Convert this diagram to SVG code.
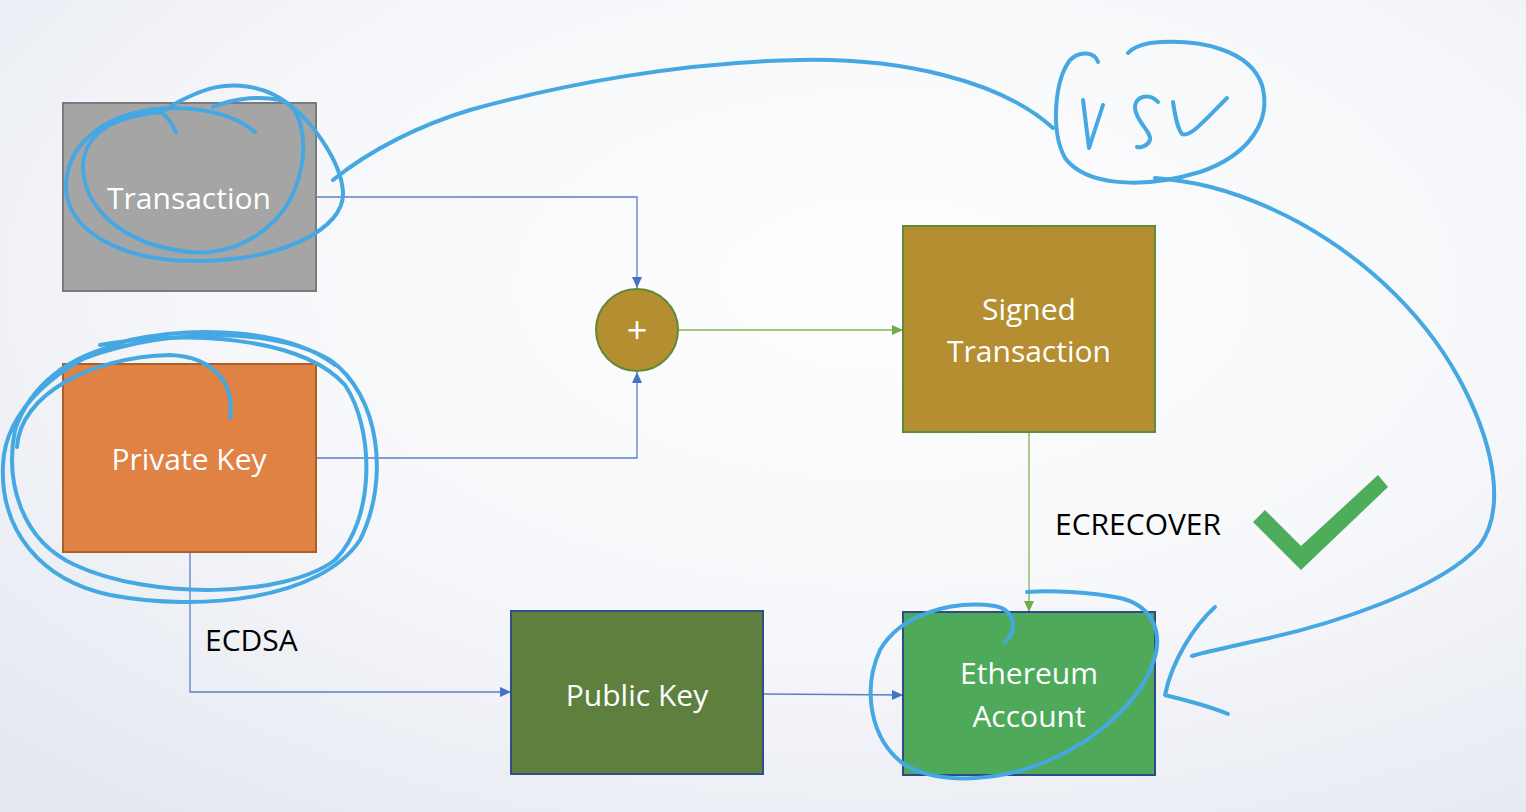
<svg xmlns="http://www.w3.org/2000/svg" width="1526" height="812" viewBox="0 0 1526 812">
<defs>
<radialGradient id="bg" cx="0.58" cy="0.35" r="0.8">
<stop offset="0" stop-color="#fefefe"/>
<stop offset="0.55" stop-color="#f6f7fa"/>
<stop offset="1" stop-color="#e5e9f1"/>
</radialGradient>
<marker id="ab" markerUnits="userSpaceOnUse" markerWidth="11" markerHeight="10" refX="11" refY="5" orient="auto"><path d="M0,0 L11,5 L0,10 z" fill="#4472c4"/></marker>
<marker id="ag" markerUnits="userSpaceOnUse" markerWidth="11" markerHeight="10" refX="11" refY="5" orient="auto"><path d="M0,0 L11,5 L0,10 z" fill="#70ad47"/></marker>
<style>
.lbl{font-family:"Open Sans","Liberation Sans",sans-serif;font-size:30px;fill:#ffffff;text-anchor:middle}
.cap{font-family:"Open Sans","Liberation Sans",sans-serif;font-size:30px;fill:#000000}
.cb{fill:none;stroke:#5b80c6;stroke-width:1.3}
.cg{fill:none;stroke:#80b35a;stroke-width:1.3}
.ink{fill:none;stroke:#45a8e2;stroke-width:4;stroke-linecap:round;stroke-linejoin:round}
</style>
</defs>
<rect x="0" y="0" width="1526" height="812" fill="url(#bg)"/>

<g id="connectors">
<path class="cb" d="M316,197 H637 V288" marker-end="url(#ab)"/>
<path class="cb" d="M316,458 H637 V372" marker-end="url(#ab)"/>
<path class="cg" d="M678,330 H903" marker-end="url(#ag)"/>
<path class="cg" d="M1029,432 V612" marker-end="url(#ag)"/>
<path class="cb" d="M190,552 V692 H511" marker-end="url(#ab)"/>
<path class="cb" d="M763,694 L903,695" marker-end="url(#ab)"/>
</g>

<g id="transaction">
<rect x="63" y="103" width="253" height="188" fill="#a5a5a5" stroke="#7b7b7b" stroke-width="2"/>
<text class="lbl" x="189" y="209">Transaction</text>
</g>
<g id="private-key">
<rect x="63" y="364" width="253" height="188" fill="#df8244" stroke="#ad5f28" stroke-width="2"/>
<text class="lbl" x="189" y="470">Private Key</text>
</g>
<g id="plus">
<circle cx="637" cy="330" r="41" fill="#b58e31" stroke="#5f8a36" stroke-width="2"/>
<text class="lbl" x="637" y="343" style="font-size:36px">+</text>
</g>
<g id="signed-transaction">
<rect x="903" y="226" width="252" height="206" fill="#b58e31" stroke="#5f8c3a" stroke-width="2"/>
<text class="lbl" x="1029" y="320">Signed</text>
<text class="lbl" x="1029" y="362">Transaction</text>
</g>
<g id="public-key">
<rect x="511" y="611" width="252" height="163" fill="#5e7f3e" stroke="#2f4f86" stroke-width="2"/>
<text class="lbl" x="637" y="706">Public Key</text>
</g>
<g id="ethereum-account">
<rect x="903" y="612" width="252" height="163" fill="#4eaa5a" stroke="#2f4a8a" stroke-width="2"/>
<text class="lbl" x="1029" y="684">Ethereum</text>
<text class="lbl" x="1029" y="727">Account</text>
</g>

<g id="labels">
<text class="cap" x="205" y="651">ECDSA</text>
<text class="cap" x="1055" y="535">ECRECOVER</text>
<polygon points="1253,522 1265,510 1301,546 1378,475 1388,487 1301,570" fill="#4ead5b"/>
</g>

<g id="annotations">
<path class="ink" d="M176,132 C170,120 165,114 160,112 C120,116 85,130 83,165 C82,205 120,245 190,252 C240,256 285,225 298,180 C310,140 300,105 280,100 C255,95 230,100 213,107"/>
<path class="ink" d="M255,132 C235,115 205,108 170,108 C110,110 68,140 66,185 C65,230 120,262 200,261 C280,260 345,230 343,192 C341,160 310,120 290,105 C265,85 230,80 200,92 C185,98 172,105 165,110"/>
<path class="ink" d="M333,180 C370,150 420,125 470,110 C560,85 680,62 800,60 C900,58 1000,80 1053,128" stroke-width="3.5"/>
<path class="ink" d="M1098,62 C1095,52 1080,50 1070,60 C1055,80 1050,130 1065,158 C1085,185 1140,190 1200,172 C1250,155 1272,120 1262,85 C1250,50 1200,38 1150,43 C1140,45 1132,48 1128,53"/>
<path class="ink" d="M1083,100 L1089,148 L1103,105"/>
<path class="ink" d="M1158,102 C1150,93 1135,95 1135,108 C1136,122 1152,132 1150,140 C1148,146 1140,148 1137,147"/>
<path class="ink" d="M1173,102 C1175,115 1177,128 1182,134 C1190,138 1205,120 1227,98"/>
<path class="ink" d="M1155,178 C1180,180 1230,185 1300,223 C1370,262 1430,320 1465,390 C1495,450 1505,510 1480,545 C1440,590 1330,625 1260,640 C1230,647 1205,652 1192,656" stroke-width="3.5"/>
<path class="ink" d="M1215,607 C1195,625 1172,660 1165,695 C1185,700 1210,706 1228,714"/>
<path class="ink" d="M17,447 C20,395 90,357 170,355 C215,357 235,385 230,418"/>
<path class="ink" d="M60,370 C120,335 260,318 330,360 C380,395 390,480 360,540 C320,600 200,612 110,595 C40,580 0,530 3,465 C5,410 60,360 130,340 C200,325 290,330 335,365"/>
<path class="ink" d="M100,345 C180,330 300,335 345,385 C375,430 375,520 335,560 C285,598 150,600 75,565 C20,540 5,480 15,430 C30,385 70,355 120,345"/>
<path class="ink" d="M1005,642 C1018,630 1015,610 995,606 C950,600 900,615 880,650 C862,690 870,740 905,765 C940,785 1000,782 1050,760 C1100,738 1140,700 1153,663 C1165,630 1150,605 1120,598 C1090,592 1050,590 1027,592"/>
</g>
</svg>
